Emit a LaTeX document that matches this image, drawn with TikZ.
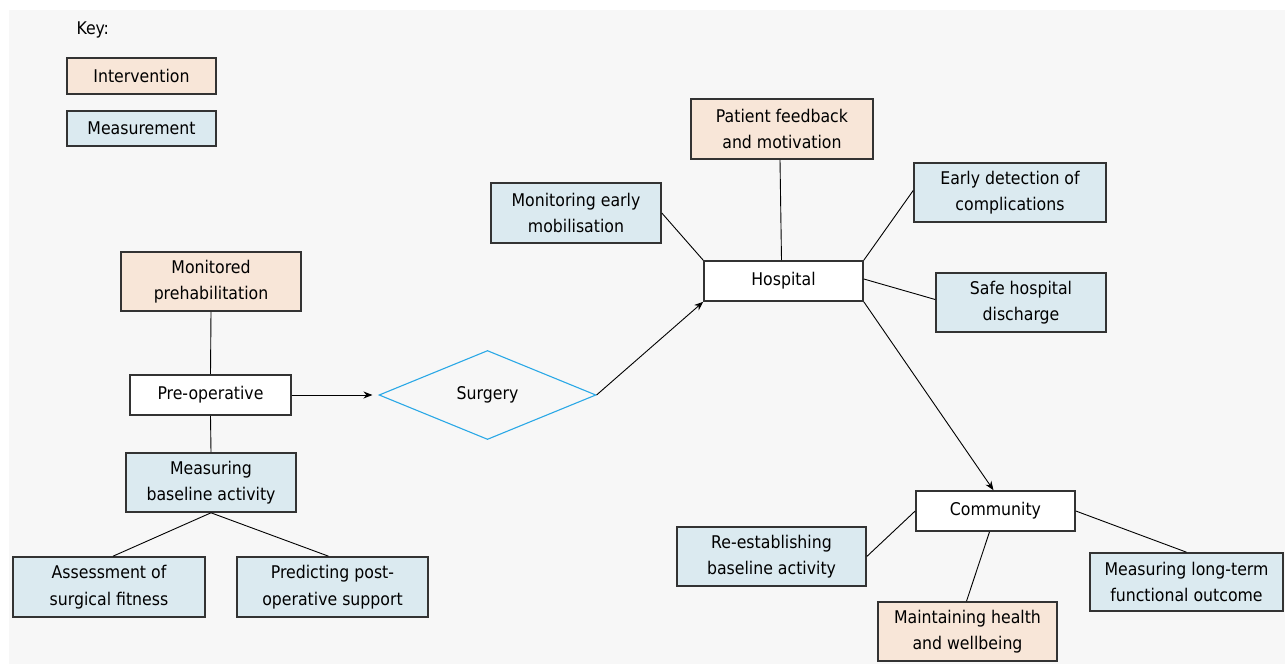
\documentclass[tikz,border=0pt]{standalone}
\usepackage{fontspec}
\setmainfont{DejaVu Sans Condensed}
\usetikzlibrary{shapes.geometric,arrows.meta}
\definecolor{bggray}{HTML}{F7F7F7}
\definecolor{intfill}{HTML}{F8E6D8}
\definecolor{measfill}{HTML}{DBEAF0}
\definecolor{boxline}{HTML}{333333}
\definecolor{diamline}{HTML}{2AA8E6}
\tikzset{
  base/.style={draw=boxline, line width=1.6pt, inner sep=0pt, align=center,
    font=\fontsize{17.5}{26.5}\selectfont, text=black},
  interv/.style={base, fill=intfill},
  measure/.style={base, fill=measfill},
  stage/.style={base, fill=white},
  link/.style={draw=black, line width=0.9pt},
  arr/.style={link, -{Stealth[length=9pt,width=7pt]}},
}
\begin{document}
\begin{tikzpicture}[x=1pt,y=-1pt]
\useasboundingbox (0,0) rectangle (1285,664);
\fill[white] (0,0) rectangle (1285,664);
\fill[bggray] (9,10) rectangle (1285,664);

% key
\node[anchor=west, font=\fontsize{17.5}{26.5}\selectfont] (key) at (73,30) {Key:};
\node[interv, minimum width=149pt, minimum height=36pt] (kint) at (141.5,76) {Intervention};
\node[measure, minimum width=149pt, minimum height=35pt] (kmeas) at (141.5,128.5) {Measurement};

% pre-operative branch
\node[interv, minimum width=180pt, minimum height=59pt] (monpre) at (211,281.5) {Monitored\\prehabilitation};
\node[stage, minimum width=161pt, minimum height=40pt] (preop) at (210.5,395) {Pre-operative};
\node[measure, minimum width=170pt, minimum height=59pt] (measbase) at (211,482.5) {Measuring\\baseline activity};
\node[measure, minimum width=192pt, minimum height=60pt] (assess) at (109,587) {Assessment of\\surgical fitness};
\node[measure, minimum width=191pt, minimum height=60pt] (predict) at (332.5,587) {Predicting post-\\operative support};

% surgery
\node[diamond, draw=diamline, line width=1.1pt, fill=bggray, aspect=2.44, inner sep=0pt,
  minimum width=217pt, minimum height=89pt, font=\fontsize{17.5}{26.5}\selectfont] (surgery) at (487.5,395) {Surgery};

% hospital branch
\node[interv, minimum width=182pt, minimum height=60pt] (patient) at (782,129) {Patient feedback\\and motivation};
\node[measure, minimum width=170pt, minimum height=60pt] (monmob) at (576,213) {Monitoring early\\mobilisation};
\node[stage, minimum width=159pt, minimum height=40pt] (hospital) at (783.5,281) {Hospital};
\node[measure, minimum width=192pt, minimum height=59pt] (early) at (1010,192.5) {Early detection of\\complications};
\node[measure, minimum width=170pt, minimum height=59pt] (safe) at (1021,302.5) {Safe hospital\\discharge};

% community branch
\node[stage, minimum width=159pt, minimum height=40pt] (community) at (995.5,511) {Community};
\node[measure, minimum width=189pt, minimum height=59pt] (reest) at (771.5,556.5) {Re-establishing\\baseline activity};
\node[interv, minimum width=179pt, minimum height=59pt] (maint) at (967.5,631.5) {Maintaining health\\and wellbeing};
\node[measure, minimum width=193pt, minimum height=58pt] (longterm) at (1186.5,582) {Measuring long-term\\functional outcome};

% connectors
\draw[link] (monpre.south) -- (preop.north);
\draw[link] (preop.south) -- (measbase.north);
\draw[link] (measbase.south) -- ([xshift=4pt]assess.north);
\draw[link] (measbase.south) -- ([xshift=-4pt]predict.north);
\draw[arr, shorten >=6pt] (preop.east) -- (surgery.west);
\draw[arr] (surgery.east) -- (hospital.south west);
\draw[link] (monmob.east) -- (hospital.north west);
\draw[link] ([xshift=-2pt]patient.south) -- ([xshift=-2pt]hospital.north);
\draw[link] (hospital.north east) -- ([yshift=2pt]early.west);
\draw[link] ([yshift=2pt]hospital.east) -- ([yshift=3pt]safe.west);
\draw[arr] (hospital.south east) -- ([xshift=-2pt]community.north);
\draw[link] (community.west) -- (reest.east);
\draw[link] ([xshift=-6pt]community.south) -- ([xshift=-1pt]maint.north);
\draw[link] (community.east) -- (longterm.north);
\end{tikzpicture}
\end{document}
